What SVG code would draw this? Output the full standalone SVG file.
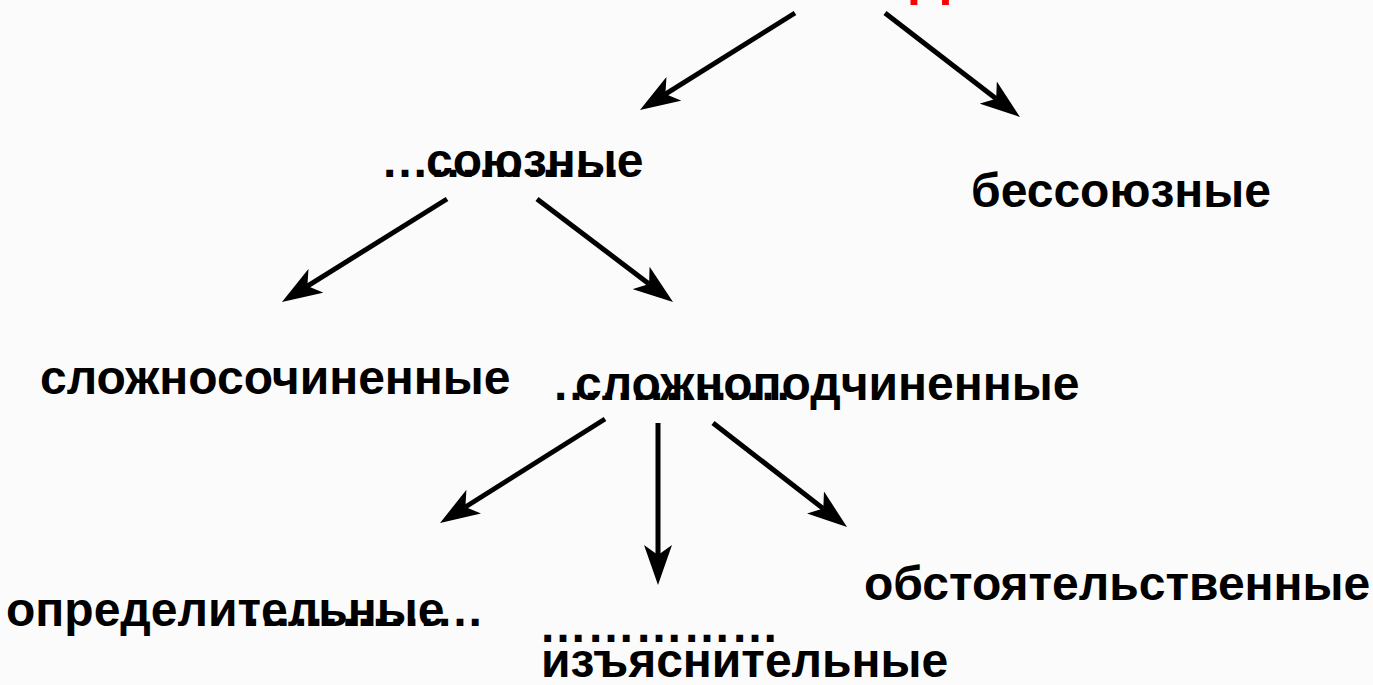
<svg xmlns="http://www.w3.org/2000/svg" width="1373" height="685" viewBox="0 0 1373 685">
<style>
.t{font-family:"Liberation Sans",Arial,sans-serif;font-weight:bold;font-size:48px;fill:#000}
.title{font-family:"Liberation Sans",Arial,sans-serif;font-weight:bold;font-size:56px;fill:#ff0000}
.c{stroke:#000;stroke-width:5;fill:none;marker-end:url(#ah)}
</style>
<defs>
<marker id="ah" viewBox="0 0 40 28" refX="10" refY="14" markerWidth="40" markerHeight="28" markerUnits="userSpaceOnUse" orient="auto">
<path d="M40,14 L0,0 L10,14 L0,28 Z" fill="#000"/>
</marker>
</defs>
<rect width="1373" height="685" fill="#fbfbfb"/>
<g id="title"><text class="title" x="910" y="-7">Д</text></g>
<g id="connectors">
<line class="c" x1="795" y1="13" x2="665.4" y2="94.1"/>
<line class="c" x1="885" y1="13" x2="996.2" y2="98.7"/>
<line class="c" x1="447" y1="199" x2="307.4" y2="286.1"/>
<line class="c" x1="537" y1="199" x2="649.1" y2="283.9"/>
<line class="c" x1="605" y1="419" x2="465.4" y2="507"/>
<line class="c" x1="658" y1="423" x2="658" y2="555"/>
<line class="c" x1="713" y1="423" x2="823.3" y2="508.6"/>
</g>
<g id="n-soyuznye"><text class="t" x="381" y="177">……………</text><text class="t" x="426" y="177">союзные</text></g>
<g id="n-bessoyuznye"><text class="t" x="971" y="207">бессоюзные</text></g>
<g id="n-slozhnosoch"><text class="t" x="40" y="394">сложносочиненные</text></g>
<g id="n-slozhnopodch"><text class="t" x="552" y="400">……………</text><text class="t" x="575" y="400">сложноподчиненные</text></g>
<g id="n-opredelit"><text class="t" x="244" y="626">……………</text><text class="t" x="6" y="626">определительные</text></g>
<g id="n-izyasnit"><text class="t" x="539" y="642">……………</text><text class="t" x="541" y="677">изъяснительные</text></g>
<g id="n-obstoyat"><text class="t" x="864" y="600">обстоятельственные</text></g>
</svg>
